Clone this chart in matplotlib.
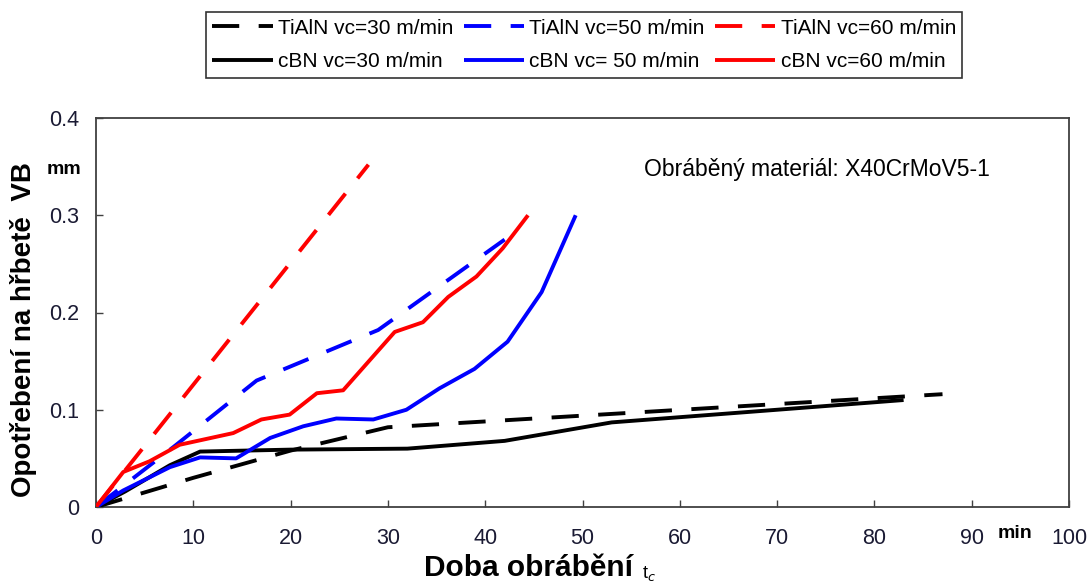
import matplotlib
matplotlib.use("Agg")
import matplotlib.pyplot as plt

plt.rcParams['font.family'] = ['Liberation Sans', 'DejaVu Sans']

# TiAlN (dashed) series
t_tialn_30 = [0, 10, 20, 30, 87]
vb_tialn_30 = [0, 0.030, 0.058, 0.082, 0.116]
t_tialn_50 = [0, 8, 16.5, 29, 42]
vb_tialn_50 = [0, 0.062, 0.130, 0.182, 0.275]
t_tialn_60 = [0, 28]
vb_tialn_60 = [0, 0.352]

# cBN (solid) series
t_cbn_30 = [0, 3, 7.6, 10.7, 20, 32, 42, 53, 70, 83]
vb_cbn_30 = [0, 0.016, 0.043, 0.057, 0.059, 0.060, 0.068, 0.087, 0.100, 0.110]
t_cbn_50 = [0, 2.8, 7.6, 10.7, 14.4, 17.9, 21.3, 24.7, 28.5, 31.9, 35.3, 38.9, 42.3, 45.8, 49.3]
vb_cbn_50 = [0, 0.017, 0.041, 0.051, 0.050, 0.071, 0.083, 0.091, 0.090, 0.100, 0.122, 0.142,
             0.170, 0.221, 0.300]
t_cbn_60 = [0, 2.8, 5.5, 8.6, 14.1, 17.0, 19.9, 22.7, 25.4, 30.7, 33.6, 36.2, 39.1, 41.8, 44.4]
vb_cbn_60 = [0, 0.036, 0.047, 0.064, 0.076, 0.090, 0.095, 0.117, 0.120, 0.180, 0.190, 0.216,
             0.237, 0.266, 0.300]

labels_tialn = ["TiAlN vc=30 m/min", "TiAlN vc=50 m/min", "TiAlN vc=60 m/min"]
labels_cbn = ["cBN vc=30 m/min", "cBN vc= 50 m/min", "cBN vc=60 m/min"]
colors = ["black", "#0000ff", "#ff0000"]

fig = plt.figure(figsize=(10.9, 5.85), dpi=100)
ax = fig.add_axes([96 / 1090, 1 - 507 / 585, (1069 - 96) / 1090, (507 - 118) / 585])

lw = 2.8
dash = (7, 5)
tialn = [(t_tialn_30, vb_tialn_30), (t_tialn_50, vb_tialn_50), (t_tialn_60, vb_tialn_60)]
cbn = [(t_cbn_30, vb_cbn_30), (t_cbn_50, vb_cbn_50), (t_cbn_60, vb_cbn_60)]

h_tialn, h_cbn = [], []
for (t, vb), c, lab in zip(tialn, colors, labels_tialn):
    h, = ax.plot(t, vb, color=c, lw=lw, linestyle=(0, dash), label=lab, zorder=3)
    h_tialn.append(h)
for (t, vb), c, lab in zip(cbn, colors, labels_cbn):
    h, = ax.plot(t, vb, color=c, lw=lw, solid_capstyle='butt', label=lab, zorder=3)
    h_cbn.append(h)

ax.set_xlim(0, 100)
ax.set_ylim(0, 0.4)
ax.set_xticks(range(0, 101, 10))
ax.set_yticks([0, 0.1, 0.2, 0.3, 0.4])
ax.set_yticklabels(["0", "0.1", "0.2", "0.3", "0.4"])
ax.tick_params(direction='in', length=5, width=1, colors='#404040',
               labelcolor='#1a1a33', labelsize=15.5)
ax.tick_params(axis='x', pad=15)
ax.tick_params(axis='y', pad=12)
for s in ax.spines.values():
    s.set_color('#404040')
    s.set_linewidth(1.3)

# axis titles and unit labels
fig.text(24 / 1090, 1 - 330 / 585, "Opotřebení na hřbetě  VB", rotation=90,
         ha='center', va='center', fontsize=20, fontweight='bold')
fig.text(64 / 1090, 1 - 169 / 585, "mm", ha='center', va='center',
         fontsize=14, fontweight='bold')
fig.text(424 / 1090, 1 - 576 / 585, "Doba obrábění", ha='left', va='baseline',
         fontsize=21.5, fontweight='bold')
fig.text(642 / 1090, 1 - 578 / 585, "t$_c$", ha='left', va='baseline', fontsize=13)
fig.text(1015 / 1090, 1 - 533 / 585, "min", ha='center', va='center',
         fontsize=14, fontweight='bold')
ax.text(0.563, 0.868, "Obráběný materiál: X40CrMoV5-1", transform=ax.transAxes,
        ha='left', va='center', fontsize=16.5)

# legend rows: TiAlN on top, cBN below (column-major fill)
handles = [h for pair in zip(h_tialn, h_cbn) for h in pair]
leg = fig.legend(handles=handles, ncol=3, loc='center',
                 bbox_to_anchor=(584 / 1090, 1 - 45 / 585),
                 fontsize=15, frameon=True, fancybox=False, edgecolor='black',
                 handlelength=2.9, handletextpad=0.25, columnspacing=0.5,
                 labelspacing=0.7, borderpad=0.3, borderaxespad=0)
leg.get_frame().set_linewidth(1.2)

fig.savefig("out.png", dpi=100)
